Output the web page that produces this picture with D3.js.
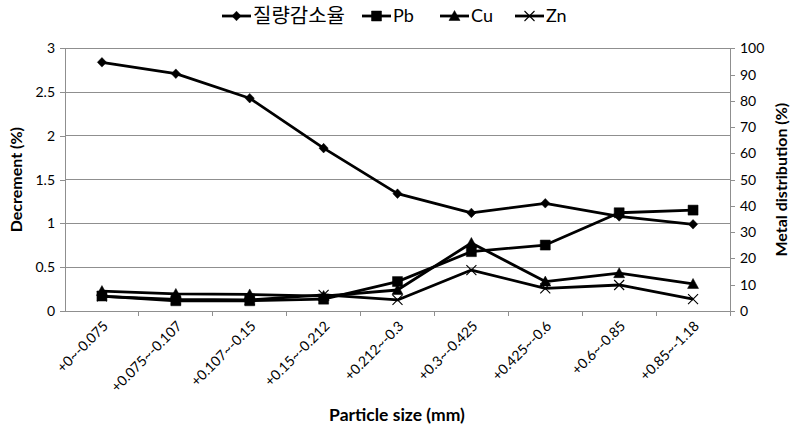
<!DOCTYPE html>
<html>
<head>
<meta charset="utf-8">
<script src="https://cdn.jsdelivr.net/npm/d3@7/dist/d3.min.js"></script>
<style>
  html, body { margin: 0; padding: 0; background: #fff; }
  svg text { font-family: Lato, "Open Sans", "Noto Sans", sans-serif; fill: #000; }
</style>
</head>
<body>
<svg id="chart" width="799" height="430"></svg>
<script>
// Particle size fractions (mm)
const categories = [
  "+0~-0.075", "+0.075~-0.107", "+0.107~-0.15", "+0.15~-0.212", "+0.212~-0.3",
  "+0.3~-0.425", "+0.425~-0.6", "+0.6~-0.85", "+0.85~-1.18"
];
// Mass decrement (%), left axis
const decrement = [2.84, 2.71, 2.43, 1.86, 1.34, 1.12, 1.23, 1.08, 0.99];
// Metal distribution (%), right axis
const pb = [5.7, 3.9, 3.9, 4.5, 11.2, 22.6, 25.1, 37.4, 38.4];
const cu = [7.6, 6.5, 6.3, 5.7, 8.0, 25.9, 11.2, 14.4, 10.3];
const zn = [5.6, 4.4, 4.2, 6.1, 4.2, 15.6, 8.6, 9.9, 4.5];

const leftTicks = [0, 0.5, 1, 1.5, 2, 2.5, 3];
const rightTicks = [0, 10, 20, 30, 40, 50, 60, 70, 80, 90, 100];
const seriesNames = ["질량감소율", "Pb", "Cu", "Zn"];

const svg = d3.select("#chart");
const plot = { left: 65, right: 730, top: 48.3, bottom: 311 };
const gridColor = "#8f8f8f";

const x = d3.scaleBand().domain(categories).range([plot.left, plot.right]);
const yL = d3.scaleLinear().domain([0, 3]).range([plot.bottom, plot.top]);
const yR = d3.scaleLinear().domain([0, 100]).range([plot.bottom, plot.top]);

// Marker shapes
const markers = {
  diamond: "M0,-4.8L4.6,0L0,4.8L-4.6,0Z",
  square: "M-5,-5H5V5H-5Z",
  triangle: "M0,-5.5L5.5,4.5H-5.5Z",
  cross: "M-5,-5L5,5M-5,5L5,-5"
};

// Horizontal gridlines at the left-axis ticks
svg.append("g")
  .selectAll("line")
  .data(leftTicks.slice(1))
  .join("line")
  .attr("x1", plot.left).attr("x2", plot.right)
  .attr("y1", d => yL(d)).attr("y2", d => yL(d))
  .attr("stroke", gridColor).attr("stroke-width", 1).attr("shape-rendering", "crispEdges");

// Left axis
const leftAxis = svg.append("g")
  .attr("transform", `translate(${plot.left},0)`)
  .call(d3.axisLeft(yL).tickValues(leftTicks).tickFormat(d3.format("")).tickSize(5).tickPadding(5));
// Right axis
const rightAxis = svg.append("g")
  .attr("transform", `translate(${plot.right},0)`)
  .call(d3.axisRight(yR).tickValues(rightTicks).tickSize(5).tickPadding(5));
// Bottom axis (ticks at category boundaries)
const bottomAxis = svg.append("g")
  .attr("transform", `translate(0,${plot.bottom})`)
  .call(d3.axisBottom(x).tickSize(0).tickPadding(0));

[leftAxis, rightAxis, bottomAxis].forEach(g => {
  g.select(".domain").attr("stroke", gridColor).attr("shape-rendering", "crispEdges");
  g.selectAll(".tick line").attr("stroke", gridColor).attr("shape-rendering", "crispEdges");
  g.selectAll("text").attr("font-size", 14).attr("font-family", "Lato, sans-serif").attr("fill", "#000");
});
bottomAxis.select(".domain").attr("d", `M${plot.left},0H${plot.right}`);

// Boundary tick marks on the category axis
bottomAxis.selectAll("line.boundary")
  .data(categories)
  .join("line")
  .attr("class", "boundary")
  .attr("x1", d => x(d) + x.bandwidth())
  .attr("x2", d => x(d) + x.bandwidth())
  .attr("y1", 0).attr("y2", 5)
  .attr("stroke", gridColor).attr("shape-rendering", "crispEdges");

// Rotated category labels
bottomAxis.selectAll(".tick text")
  .attr("font-size", 14)
  .attr("text-anchor", "end")
  .attr("dy", 0).attr("y", 0)
  .attr("transform", "translate(7,16) rotate(-45)");

// Series lines and markers
const series = [
  { name: seriesNames[0], values: decrement, y: yL, marker: "diamond" },
  { name: seriesNames[1], values: pb, y: yR, marker: "square" },
  { name: seriesNames[2], values: cu, y: yR, marker: "triangle" },
  { name: seriesNames[3], values: zn, y: yR, marker: "cross" }
];

const cx = i => x(categories[i]) + x.bandwidth() / 2;

series.forEach(s => {
  const line = d3.line().x((d, i) => cx(i)).y(d => s.y(d));
  svg.append("path")
    .datum(s.values)
    .attr("d", line)
    .attr("fill", "none").attr("stroke", "#000").attr("stroke-width", 2.8)
    .attr("stroke-linejoin", "round");
  svg.append("g").selectAll("path")
    .data(s.values)
    .join("path")
    .attr("transform", (d, i) => `translate(${cx(i)},${s.y(d)})`)
    .attr("d", markers[s.marker])
    .attr("fill", s.marker === "cross" ? "none" : "#000")
    .attr("stroke", "#000")
    .attr("stroke-width", s.marker === "cross" ? 1.1 : 0.5);
});

// Legend
const legendItems = [
  { x: 222, marker: "diamond", label: seriesNames[0], size: 20, font: "'Noto Sans CJK KR', sans-serif" },
  { x: 362, marker: "square", label: seriesNames[1], size: 18, font: "Lato, sans-serif" },
  { x: 440, marker: "triangle", label: seriesNames[2], size: 18, font: "Lato, sans-serif" },
  { x: 515, marker: "cross", label: seriesNames[3], size: 18, font: "Lato, sans-serif" }
];
const legend = svg.append("g");
legendItems.forEach(it => {
  const g = legend.append("g").attr("transform", `translate(${it.x},16)`);
  g.append("line").attr("x1", 0).attr("x2", 29).attr("y1", 0).attr("y2", 0)
    .attr("stroke", "#000").attr("stroke-width", 2.8);
  g.append("path").attr("transform", "translate(14.5,0)")
    .attr("d", markers[it.marker])
    .attr("fill", it.marker === "cross" ? "none" : "#000")
    .attr("stroke", "#000").attr("stroke-width", it.marker === "cross" ? 1.1 : 0.5);
  g.append("text").attr("x", 31).attr("y", 0).attr("dy", "0.35em")
    .attr("font-size", it.size).style("font-family", it.font)
    .text(it.label);
});

// Axis titles
svg.append("text")
  .attr("transform", `translate(22,${(plot.top + plot.bottom) / 2}) rotate(-90)`)
  .attr("text-anchor", "middle").attr("font-weight", "bold").attr("font-size", 16)
  .text("Decrement (%)");
svg.append("text")
  .attr("transform", `translate(787,${(plot.top + plot.bottom) / 2}) rotate(-90)`)
  .attr("text-anchor", "middle").attr("font-weight", "bold").attr("font-size", 16)
  .text("Metal distribution (%)");
svg.append("text")
  .attr("x", 397).attr("y", 421)
  .attr("text-anchor", "middle").attr("font-weight", "bold").attr("font-size", 17.5)
  .text("Particle size (mm)");
</script>
</body>
</html>
